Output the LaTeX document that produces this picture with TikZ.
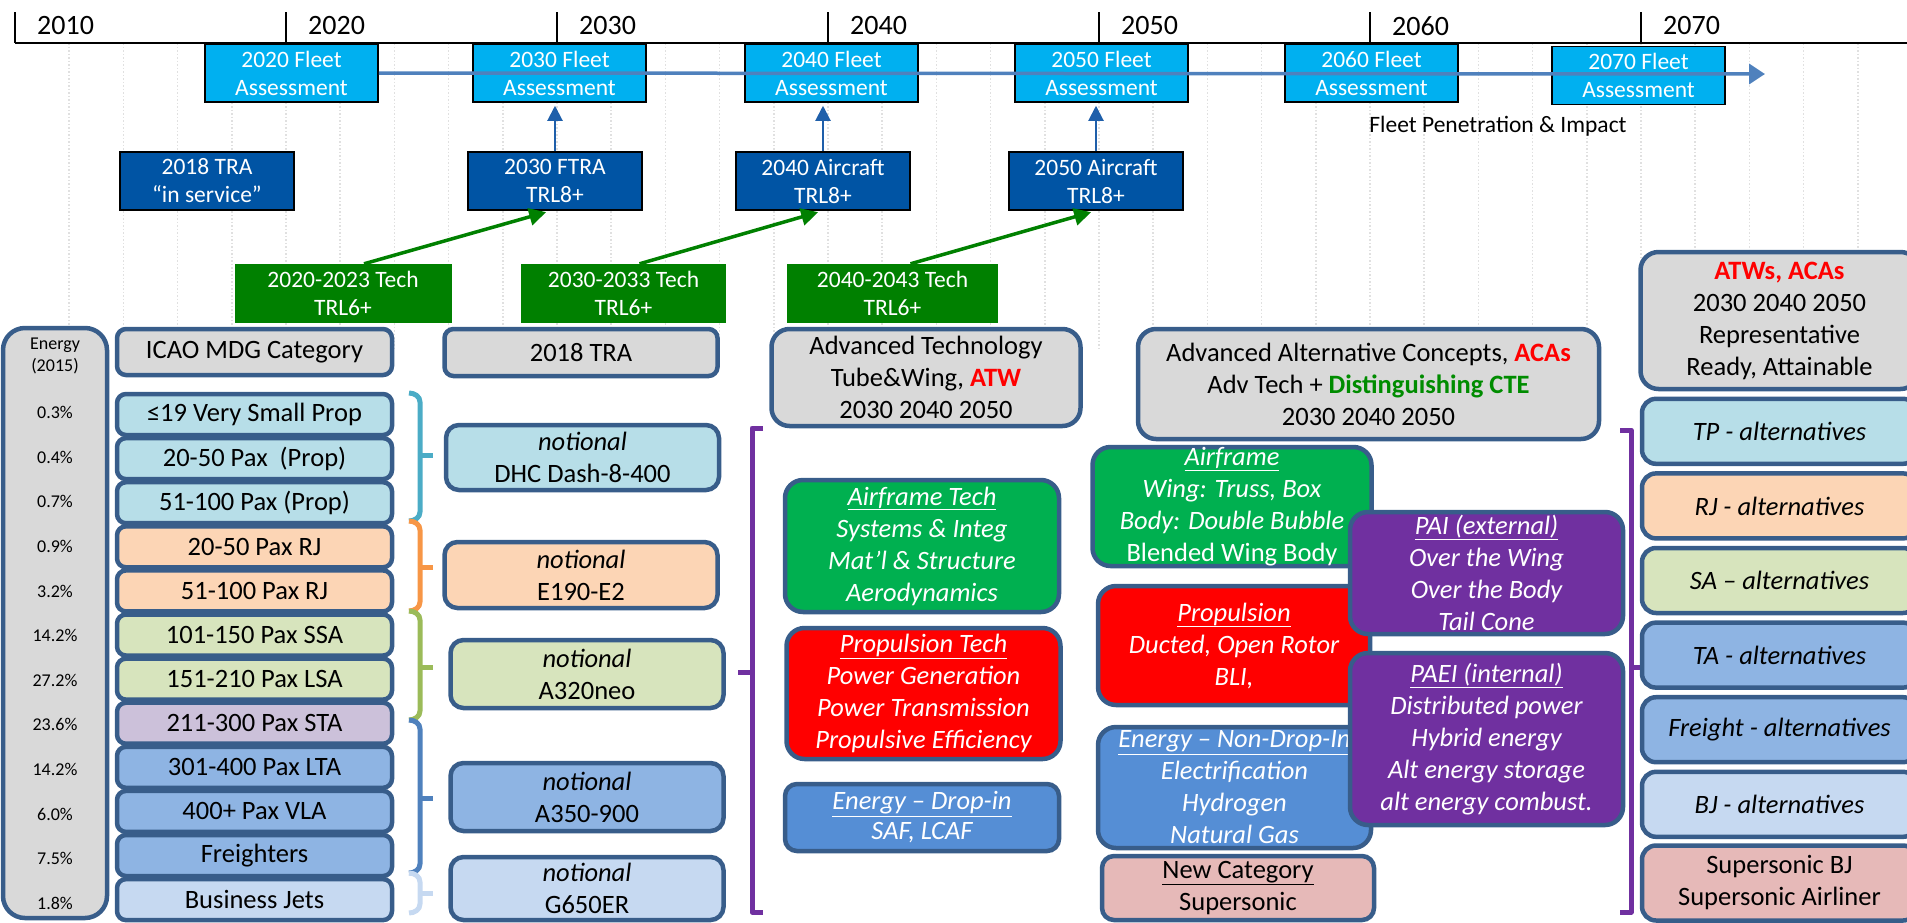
\documentclass[tikz,border=0pt]{standalone}
\usepackage{fontspec}
\setmainfont{Carlito}
\usetikzlibrary{arrows.meta}
\usetikzlibrary{calc}

\definecolor{fleetblue}{RGB}{0,176,240}
\definecolor{darkblue}{RGB}{0,84,164}
\definecolor{techgreen}{RGB}{0,128,0}
\definecolor{boxborder}{RGB}{56,93,138}
\definecolor{boxgray}{RGB}{217,217,217}
\definecolor{propblue}{RGB}{183,222,232}
\definecolor{rjpeach}{RGB}{252,213,181}
\definecolor{sagreen}{RGB}{215,228,189}
\definecolor{talav}{RGB}{204,193,218}
\definecolor{tablue}{RGB}{142,180,227}
\definecolor{bjblue}{RGB}{198,217,241}
\definecolor{airgreen}{RGB}{0,176,80}
\definecolor{energyblue}{RGB}{85,142,213}
\definecolor{paipurple}{RGB}{112,48,160}
\definecolor{superpink}{RGB}{230,185,184}
\definecolor{lineblue}{RGB}{79,129,189}
\definecolor{arrowblue}{RGB}{31,95,170}
\definecolor{ctegreen}{RGB}{0,140,0}
\definecolor{brteal}{RGB}{75,172,198}
\definecolor{brorange}{RGB}{247,150,70}
\definecolor{brgreen}{RGB}{155,187,89}

\begin{document}
\begin{tikzpicture}[x=1pt, y=-1pt,
        fleet_style/.style={draw=black, line width=1.5pt, fill=fleetblue, text=white, minimum width=173pt, minimum height=58pt, inner sep=0pt, align=center, font=\fontsize{23.5}{28}\selectfont},
        aircraft_style/.style={fleet_style, fill=darkblue, minimum width=174pt},
        tech_style/.style={fill=techgreen, text=white, minimum height=59pt, inner sep=0pt, align=center, font=\fontsize{23.5}{28}\selectfont},
        cat_style/.style={draw=boxborder, line width=4.5pt, rounded corners=9pt, inner sep=0pt, align=center, font=\fontsize{26.5}{32}\selectfont},
        big_style/.style={cat_style, rounded corners=18pt},
        white_style/.style={big_style, text=white, font=\fontsize{26.5}{32}\selectfont\itshape},
        alt_style/.style={cat_style, rounded corners=14pt, minimum width=275pt, minimum height=65pt},
        grid_style/.style={draw=black!12, line width=1.5pt, dotted},
        bracket_style/.style={line width=5pt, line join=round},
        up_arrow_style/.style={draw=arrowblue, line width=2pt, -{Triangle[length=15pt,width=15pt]}, shorten >=3pt},
        green_arrow_style/.style={draw=techgreen, line width=3.5pt, -{Triangle[length=17pt,width=17pt]}, shorten >=5pt}]

        \useasboundingbox (0,0) rectangle (1907,922);
        \clip (0,0) rectangle (1907,922);

        % time axis
        \foreach \k in {1,...,35}
            \draw [grid_style] (15+54.2*\k,43) -- (15+54.2*\k,350);
        \draw [line width=2pt] (15,43) -- (1907,43);
        \foreach \yr [count=\i from 0] in {2010,2020,2030,2040,2050,2060,2070} {
            \draw [line width=2pt] (15+271*\i,12) -- (15+271*\i,43);
            \node [anchor=west, inner sep=0pt, font=\fontsize{28}{32}\selectfont] (y\yr) at (37+271*\i,26) {\yr};
        }

        % fleet assessments
        \node [fleet_style] (f2020) at (291.5,73) {2020 Fleet\\Assessment};
        \node [fleet_style] (f2030) at (559.5,73) {2030 Fleet\\Assessment};
        \node [fleet_style] (f2040) at (831.5,73) {2040 Fleet\\Assessment};
        \node [fleet_style] (f2050) at (1101.5,73) {2050 Fleet\\Assessment};
        \node [fleet_style] (f2060) at (1371.5,73) {2060 Fleet\\Assessment};
        \node [fleet_style] (f2070) at (1638.5,75.5) {2070 Fleet\\Assessment};

        \coordinate (tl_end) at (1765,74);
        \draw [draw=lineblue, line width=3.5pt, -{Triangle[length=16pt,width=20pt]}] (f2020.east) -- (tl_end);

        \node [font=\fontsize{23.5}{28}\selectfont] (impact) at (1498,126) {Fleet Penetration \& Impact};

        % aircraft
        \node [aircraft_style] (a2018) at (207,181) {2018 TRA\\“in service”};
        \node [aircraft_style] (a2030) at (555,181) {2030 FTRA\\TRL8+};
        \node [aircraft_style] (a2040) at (823,181) {2040 Aircraft\\TRL8+};
        \node [aircraft_style] (a2050) at (1096,181) {2050 Aircraft\\TRL8+};

        \draw [up_arrow_style] (a2030.north) -- (a2030.north |- f2030.south);
        \draw [up_arrow_style] (a2040.north) -- (a2040.north |- f2040.south);
        \draw [up_arrow_style] (a2050.north) -- (a2050.north |- f2050.south);

        % technology
        \node [tech_style, minimum width=217pt] (t2020) at (343,293.5) {2020-2023 Tech\\TRL6+};
        \node [tech_style, minimum width=205pt] (t2030) at (623.5,293.5) {2030-2033 Tech\\TRL6+};
        \node [tech_style, minimum width=211pt] (t2040) at (892.5,293.5) {2040-2043 Tech\\TRL6+};

        \draw [green_arrow_style] ([xshift=21pt]t2020.north) -- ([xshift=-4pt]a2030.south);
        \draw [green_arrow_style] ([xshift=16pt]t2030.north) -- (a2040.south);
        \draw [green_arrow_style] ([xshift=18pt]t2040.north) -- (a2050.south);

        % energy and ICAO categories
        \node [cat_style, fill=boxgray, rounded corners=22pt, minimum width=104pt, minimum height=590pt] (energy) at (55,623) {};
        \node [font=\fontsize{18}{22}\selectfont, align=center] (energy_title) at (55,356) {Energy\\(2015)};
        \foreach \p [count=\i from 0] in {0.3,0.4,0.7,0.9,3.2,14.2,27.2,23.6,14.2,6.0,7.5,1.8}
            \node [font=\fontsize{18}{22}\selectfont] (p\i) at (55,412.6+44.6*\i) {\p\%};

        \node [cat_style, fill=boxgray, minimum width=275pt, minimum height=46pt] (icao) at (254.5,352) {ICAO MDG Category};
        \foreach \lbl/\col [count=\i from 0] in {{≤19 Very Small Prop}/propblue, {20-50 Pax\ \ (Prop)}/propblue, {51-100 Pax (Prop)}/propblue,
                {20-50 Pax RJ}/rjpeach, {51-100 Pax RJ}/rjpeach, {101-150 Pax SSA}/sagreen, {151-210 Pax LSA}/sagreen,
                {211-300 Pax STA}/talav, {301-400 Pax LTA}/tablue, {400+ Pax VLA}/tablue, {Freighters}/tablue, {Business Jets}/bjblue}
            \node [cat_style, fill=\col, minimum width=275pt, minimum height=41pt] (c\i) at (254.5,414.5+44.1*\i) {\lbl};

        % group brackets
        \foreach \c/\t/\b/\m in {brteal/393/521/455, brorange/521/611/567, brgreen/611/720/667, lineblue/720/873/798, bjblue/873/913/893} {
            \draw [bracket_style, draw=\c] (409,\t) to[out=0,in=90] (420,\t+9) -- (420,\b-9) to[out=-90,in=0] (409,\b);
            \draw [bracket_style, draw=\c] (420,\m) -- (433,\m);
        }

        % 2018 TRA
        \node [cat_style, fill=boxgray, minimum width=273pt, minimum height=47pt] (tra) at (581,352.5) {2018 TRA};
        \node [cat_style, rounded corners=13pt, fill=propblue, minimum width=273pt, minimum height=65pt] (dhc) at (582.5,457.5) {\textit{notional}\\DHC Dash-8-400};
        \node [cat_style, rounded corners=13pt, fill=rjpeach, minimum width=273pt, minimum height=66pt] (e190) at (581,575) {\textit{notional}\\E190-E2};
        \node [cat_style, rounded corners=13pt, fill=sagreen, minimum width=273pt, minimum height=68pt] (a320) at (587,674) {\textit{notional}\\A320neo};
        \node [cat_style, rounded corners=13pt, fill=tablue, minimum width=273pt, minimum height=68pt] (a350) at (587,797) {\textit{notional}\\A350-900};
        \node [cat_style, rounded corners=13pt, fill=bjblue, minimum width=273pt, minimum height=63pt] (g650) at (587,888.5) {\textit{notional}\\G650ER};

        % advanced tube and wing
        \draw [bracket_style, draw=paipurple] (763,428) -- (752,428) -- (752,912) -- (763,912);
        \draw [bracket_style, draw=paipurple] (752,672) -- (738,672);

        \node [big_style, fill=boxgray, minimum width=309pt, minimum height=97pt] (atw) at (926,377.5) {Advanced Technology\\Tube\&Wing, {\bfseries\color{red}ATW}\\2030 2040 2050};
        \node [white_style, fill=airgreen, minimum width=274pt, minimum height=132pt] (atw_air) at (922,546) {\underline{Airframe Tech}\\Systems \& Integ\\Mat’l \& Structure\\Aerodynamics};
        \node [white_style, fill=red, minimum width=274pt, minimum height=131pt] (atw_prop) at (923.5,693.5) {\underline{Propulsion Tech}\\Power Generation\\Power Transmission\\Propulsive Efficiency};
        \node [white_style, rounded corners=12pt, fill=energyblue, minimum width=274pt, minimum height=67pt, font=\fontsize{26.5}{30}\selectfont\itshape] (atw_energy) at (922,817.5) {\underline{Energy – Drop-in}\\SAF, LCAF};

        % advanced alternative concepts
        \node [big_style, fill=boxgray, minimum width=461pt, minimum height=110pt] (aca) at (1368.5,384) {Advanced Alternative Concepts, {\bfseries\color{red}ACAs}\\Adv Tech + {\bfseries\color{ctegreen}Distinguishing CTE}\\2030 2040 2050};
        \node [white_style, fill=airgreen, minimum width=279pt, minimum height=119pt] (aca_air) at (1232,506.5) {\underline{Airframe}\\Wing: Truss, Box\\Body: Double Bubble\\{\upshape Blended Wing Body}};
        \node [white_style, fill=red, minimum width=272pt, minimum height=119pt] (aca_prop) at (1234,645.5) {\underline{Propulsion}\\Ducted, Open Rotor\\BLI,};
        \node [white_style, fill=energyblue, minimum width=273pt, minimum height=121pt] (aca_energy) at (1234.5,787.5) {\underline{Energy – Non-Drop-In}\\Electrification\\Hydrogen\\Natural Gas};
        \node [big_style, rounded corners=12pt, fill=superpink, minimum width=272pt, minimum height=64pt] (aca_new) at (1238,888) {\underline{New Category}\\Supersonic};
        \node [white_style, fill=paipurple, minimum width=273pt, minimum height=122pt] (pai) at (1486.5,573) {\underline{PAI (external)}\\Over the Wing\\Over the Body\\Tail Cone};
        \node [white_style, fill=paipurple, minimum width=273pt, minimum height=172pt] (paei) at (1486.5,739) {\underline{PAEI (internal)}\\Distributed power\\Hybrid energy\\Alt energy storage\\alt energy combust.};

        % representative alternatives
        \draw [bracket_style, draw=paipurple] (1620,430) -- (1631,430) -- (1631,912) -- (1620,912);
        \draw [bracket_style, draw=paipurple] (1631,667) -- (1643,667);

        \node [big_style, fill=boxgray, minimum width=278pt, minimum height=137pt] (rep) at (1779.5,320.5) {{\bfseries\color{red}ATWs, ACAs}\\2030 2040 2050\\Representative\\Ready, Attainable};
        \foreach \lbl/\col [count=\i from 0] in {{TP - alternatives}/propblue, {RJ - alternatives}/rjpeach, {SA – alternatives}/sagreen,
                {TA - alternatives}/tablue, {Freight - alternatives}/tablue, {BJ - alternatives}/bjblue}
            \node [alt_style, fill=\col] (alt\i) at (1779.5,431.3+74.6*\i) {\textit{\lbl}};
        \node [alt_style, fill=superpink, minimum height=75pt] (alt6) at (1779.5,883) {Supersonic BJ\\Supersonic Airliner};

        \end{tikzpicture}
\end{document}
